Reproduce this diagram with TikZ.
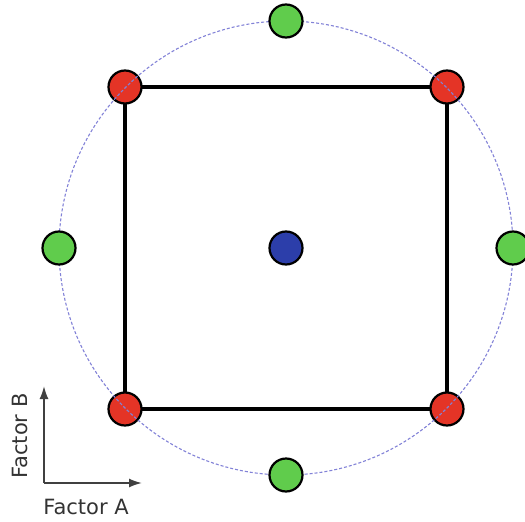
\documentclass[tikz,border=0pt]{standalone}
\usepackage{fontspec}
\setmainfont{DejaVu Sans}
\usetikzlibrary{arrows.meta, backgrounds}

\definecolor{redpt}{RGB}{228,52,38}
\definecolor{greenpt}{RGB}{96,204,76}
\definecolor{bluept}{RGB}{44,62,170}
\definecolor{ringblue}{RGB}{130,130,215}

\begin{document}
\begin{tikzpicture}[
    x=1pt, y=-1pt,
    % Style definitions
    pt/.style={
        circle, draw=black, line width=2.2pt,
        minimum size=33pt, inner sep=0pt
    },
    cornerpt/.style={pt, fill=redpt},
    axialpt/.style={pt, fill=greenpt},
    centrept/.style={pt, fill=bluept},
    edge/.style={black, line width=3.2pt},
    ring/.style={ringblue, densely dashed, line width=1.1pt},
    axis/.style={-{Latex[length=13pt, width=9pt]}, black!75, line width=1.8pt},
    axislabel/.style={font=\fontsize{21}{25}\selectfont, text=black!80},
]
\useasboundingbox (0,0) rectangle (525,522);

% === Design points ===
\node[centrept] (cen) at (286,248) {};
\node[cornerpt] (ll) at (125,409) {};
\node[cornerpt] (lr) at (447,409) {};
\node[cornerpt] (ur) at (447,87) {};
\node[cornerpt] (ul) at (125,87) {};

% === Factorial square ===
\begin{scope}[on background layer]
    \draw[edge] (ll.center) -- (lr.center) -- (ur.center) -- (ul.center) -- cycle;
\end{scope}

% === Circle through the star points ===
\draw[ring] (cen.center) circle[radius=227];

\node[axialpt] (top) at (286,21) {};
\node[axialpt] (bot) at (286,475) {};
\node[axialpt] (lft) at (59,248) {};
\node[axialpt] (rgt) at (513,248) {};

% === Factor axes ===
\coordinate (orig) at (44,483);
\coordinate (tipB) at (44,386);
\coordinate (tipA) at (142,483);
\draw[axis] (orig) -- (tipB);
\draw[axis] (orig) -- (tipA);
\node[axislabel, rotate=90] (labB) at (20,436) {Factor B};
\node[axislabel] (labA) at (86,507) {Factor A};

\end{tikzpicture}
\end{document}
